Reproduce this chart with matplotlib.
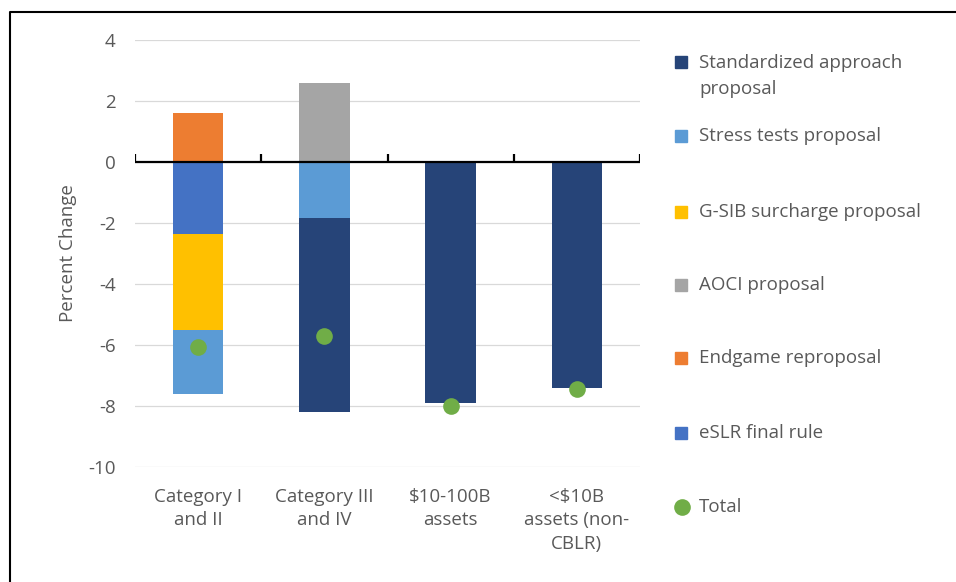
import matplotlib.pyplot as plt
from matplotlib.lines import Line2D
from matplotlib.patches import Rectangle
import numpy as np

# ---- data ----
categories = ["Category I\nand II", "Category III\nand IV", "\\$10-100B\nassets", "<\\$10B\nassets (non-\nCBLR)"]

# series in stacking order (first = closest to zero)
eslr = [-2.35, 0, 0, 0]
endgame = [1.6, 0, 0, 0]
aoci = [0, 2.6, 0, 0]
gsib = [-3.15, 0, 0, 0]
stress = [-2.1, -1.85, 0, 0]
standardized = [0, -6.35, -7.9, -7.4]
total = [-6.05, -5.7, -8.0, -7.45]

series = [
    ("eSLR final rule", eslr, "#4472C4"),
    ("Endgame reproposal", endgame, "#ED7D31"),
    ("AOCI proposal", aoci, "#A5A5A5"),
    ("G-SIB surcharge proposal", gsib, "#FFC000"),
    ("Stress tests proposal", stress, "#5B9BD5"),
    ("Standardized approach\nproposal", standardized, "#264478"),
]

TXT = "#595959"
plt.rcParams['font.family'] = ['Open Sans', 'DejaVu Sans']
plt.rcParams['axes.unicode_minus'] = False

fig = plt.figure(figsize=(9.56, 5.82), dpi=100)
W, H = 956, 582
ax = fig.add_axes([135 / W, 1 - 467 / H, (640 - 135) / W, (467 - 40) / H])

x = np.arange(len(categories))
pos = np.zeros(len(categories))
neg = np.zeros(len(categories))
for name, vals, col in series:
    vals = np.array(vals, dtype=float)
    bottom = np.where(vals >= 0, pos, neg)
    ax.bar(x, vals, 0.4, bottom=bottom, color=col, edgecolor="none", zorder=2)
    pos = pos + np.where(vals > 0, vals, 0)
    neg = neg + np.where(vals < 0, vals, 0)

ax.plot(x, total, "o", color="#70AD47", ms=12, mec="none", zorder=3)

ax.set_xlim(-0.5, len(categories) - 0.5)
ax.set_ylim(-10, 4)
ax.set_yticks(np.arange(-10, 5, 2))
ax.grid(axis="y", color="#D9D9D9", lw=0.9, zorder=0)
for s in ax.spines.values():
    s.set_visible(False)

# zero axis with tick marks at category boundaries
ax.axhline(0, color="black", lw=1.6, zorder=2.5)
bounds = np.arange(len(categories) + 1) - 0.5
ax.vlines(bounds, 0, 0.27, color="black", lw=1.6, zorder=2.5)

ax.set_xticks(x)
ax.set_xticklabels(categories, linespacing=1.4)
ax.tick_params(axis="x", length=0, pad=15, labelsize=13.5, labelcolor=TXT)
ax.tick_params(axis="y", length=0, pad=14, labelsize=13.5, labelcolor=TXT)
ax.set_ylabel("Percent Change", fontsize=13.5, color=TXT, labelpad=8)

# legend (listed top series first, like the original)
legend_y = [62, 136, 212, 285, 358, 433]
for (name, vals, col), yy in zip(reversed(series), legend_y):
    fig.patches.append(Rectangle((675 / W, 1 - (yy + 6) / H), 12 / W, 12 / H,
                                 transform=fig.transFigure, color=col))
    ty = yy + 14 if "\n" in name else yy
    fig.text(699 / W, 1 - ty / H, name, fontsize=13.5, color=TXT, va="center",
             linespacing=1.5)
fig.lines.append(Line2D([682 / W], [1 - 507 / H], marker="o", ms=12, color="#70AD47", mec="none",
                        transform=fig.transFigure))
fig.text(699 / W, 1 - 507 / H, "Total", fontsize=13.5, color=TXT, va="center")

# frame around the chart area
fig.lines.append(Line2D([10 / W, 10 / W, 1], [0, 1 - 12 / H, 1 - 12 / H], color="black", lw=1.5,
                        transform=fig.transFigure))

fig.savefig("out.png", dpi=100)
